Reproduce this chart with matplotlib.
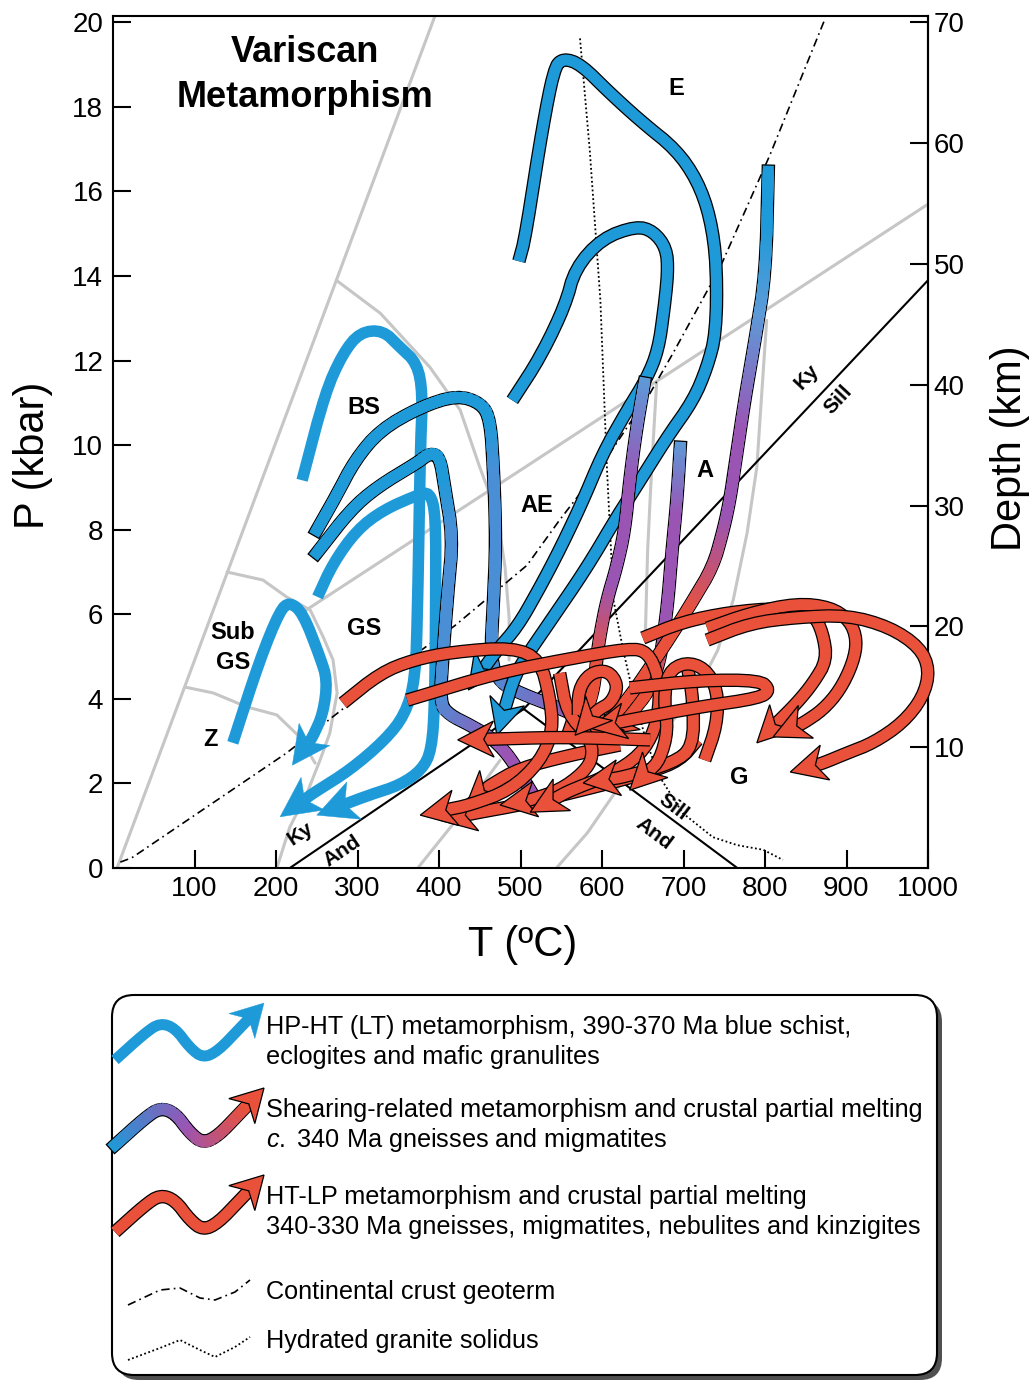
import numpy as np
import matplotlib
matplotlib.use('Agg')
import matplotlib.pyplot as plt
from matplotlib import font_manager
from matplotlib.collections import LineCollection
from matplotlib.colors import LinearSegmentedColormap
from matplotlib.patches import Polygon, FancyBboxPatch

W, H, DPI = 1032, 1384, 100

BLUE = '#1e9ad8'
MBLUE = '#4a8fd6'
LBLUE = '#5d9ad8'
PURPLE = '#9a55b4'
RED = '#e9513a'
GREY = '#c6c6c6'

# -- facies boundaries (T in ºC, P in kbar) ----------------------------------
grey_a = ([5, 395], [0, 20.15])
grey_b = ([237, 1000], [6.1, 15.7])
grey_c = ([140, 184, 213, 242, 258, 270, 275, 266, 254, 238, 217, 201],
          [7.0, 6.81, 6.41, 6.10, 5.46, 4.92, 4.14, 3.19, 2.55, 1.77, 0.97, 0.0])
grey_d = ([88, 123, 164, 201, 229, 248],
          [4.28, 4.14, 3.81, 3.62, 3.10, 2.48])
grey_e = ([274, 328, 389, 426, 450, 471, 481, 486, 486],
          [13.9, 13.12, 11.84, 10.83, 9.48, 8.39, 7.12, 5.93, 4.92])
grey_f = ([374, 426, 475], [0, 1.25, 2.55])
grey_g = ([802, 790, 778, 761, 742, 720, 696, 671, 643, 618, 582, 545],
          [12.95, 9.48, 7.92, 6.34, 5.15, 4.33, 3.69, 3.14, 2.62, 1.84, 0.83, 0.02])
grey_h = ([667, 661, 656, 653], [11.47, 9.48, 7.52, 5.39])

# Al2SiO5 reactions
ky_and = ([217, 504], [0, 3.76])
sill_and = ([504, 766], [3.76, 0])
ky_sill = ([504, 1000], [3.76, 13.9])

geotherm = ([9, 23, 213, 315, 420, 508, 548, 598, 659, 687, 745, 806, 874],
            [0.14, 0.24, 2.72, 4.26, 5.74, 7.16, 8.23, 9.48, 11.23, 12.17, 14.21, 16.86, 20.1])
solidus = ([573, 585, 598, 606, 610, 614, 626, 638, 655, 671, 699, 736, 766, 798, 822],
           [19.62, 16.97, 13.43, 9.48, 7.92, 6.34, 5.15, 4.14, 2.95, 2.15, 1.30, 0.73, 0.54, 0.43, 0.19])

# -- HP-HT (LT) paths ---------------------------------------------------------
path_z = ([147, 180, 205, 217, 233, 254, 263, 258, 245, 220],
          [2.96, 4.92, 6.10, 6.29, 6.03, 4.99, 4.44, 3.66, 3.10, 2.43])
path_bs = ([232, 260, 282, 303, 331, 352, 373, 380, 377, 374, 371, 358, 334, 291, 248, 205],
           [9.17, 11.23, 12.17, 12.67, 12.72, 12.32, 11.94, 11.23, 9.88, 6.34, 4.44, 3.62, 3.03,
            2.32, 1.80, 1.21])
path_gs1 = ([251, 270, 299, 331, 373, 389, 396, 396, 395, 391, 379, 352, 315, 282, 250],
            [6.41, 7.21, 7.99, 8.46, 8.82, 8.89, 8.34, 6.57, 3.97, 2.79, 2.32, 1.96, 1.73, 1.49, 1.25])
path_gs2 = ([250, 273, 297, 328, 377, 422, 452, 463, 467, 470, 467, 463, 475, 505, 548, 585],
            [7.99, 8.77, 9.65, 10.36, 10.90, 11.18, 10.99, 10.59, 9.41, 7.75, 6.34, 4.92, 4.37,
             4.09, 3.78, 3.45])
path_gs3 = ([250, 291, 324, 373, 389, 401, 407, 417, 411, 405, 401, 413, 438, 463, 483, 499, 512],
            [7.45, 8.46, 9.01, 9.58, 9.81, 9.72, 9.01, 7.82, 6.57, 5.08, 3.90, 3.62, 3.38, 3.10,
             2.72, 2.25, 1.84])
path_e1 = ([498, 506, 525, 541, 552, 574, 609, 649, 691, 717, 733, 741, 740, 729, 712, 680, 647,
            618, 582, 540, 512, 493, 471],
           [14.35, 14.92, 17.30, 18.91, 19.15, 19.01, 18.34, 17.64, 16.99, 16.26, 15.39, 14.25,
            12.65, 11.84, 11.06, 10.19, 9.17, 8.30, 7.12, 5.93, 5.15, 4.56, 3.14])
path_e2 = ([490, 525, 555, 567, 600, 642, 663, 679, 681, 676, 669, 655, 631, 601, 577, 548, 520,
            496, 471, 436],
           [11.06, 12.10, 13.31, 14.18, 14.89, 15.18, 15.06, 14.66, 14.09, 13.19, 12.25, 11.58,
            10.83, 9.81, 8.70, 7.52, 6.50, 5.70, 5.15, 4.21])

# -- shearing-related paths ---------------------------------------------------
path_s1 = ([652, 642, 634, 628, 618, 606, 598, 594, 590, 579, 548],
           [11.47, 10.35, 9.17, 7.99, 7.12, 6.34, 5.56, 5.04, 4.21, 3.62, 3.03])
path_s2 = ([696, 692, 686, 681, 676, 671, 659, 634, 598],
           [9.95, 8.70, 7.52, 6.34, 5.56, 4.92, 4.21, 3.62, 3.14])
path_s3 = ([804, 801, 788, 775, 766, 757, 748, 736, 712, 687, 665, 640, 616, 579],
           [16.48, 14.09, 12.51, 11.06, 9.88, 8.70, 7.92, 7.12, 6.34, 5.56, 4.92, 4.21, 3.62, 3.07])

# -- HT-LP paths ----------------------------------------------------------------
path_r1 = ([282, 328, 368, 417, 491, 524, 536, 540, 524, 487, 438, 377],
           [3.90, 4.61, 4.92, 5.11, 5.22, 4.92, 4.04, 3.26, 2.51, 1.84, 1.49, 1.25])
path_r2 = ([361, 471, 552, 634, 656, 669, 671, 665, 647, 610, 561, 512],
           [3.97, 4.61, 4.92, 5.20, 5.11, 4.56, 3.97, 3.26, 2.67, 2.20, 1.84, 1.32])
path_r3 = ([729, 782, 839, 901, 953, 990, 1002, 994, 969, 933, 901, 871, 831],
           [5.39, 5.79, 5.93, 5.98, 5.70, 5.22, 4.68, 4.04, 3.43, 2.96, 2.72, 2.48, 2.27])
path_r4 = ([729, 782, 839, 880, 904, 913, 908, 892, 871, 847, 810],
           [5.67, 6.03, 6.26, 6.17, 5.86, 5.39, 4.85, 4.21, 3.74, 3.43, 3.10])
path_r5 = ([650, 699, 757, 818, 859, 871, 876, 859, 839, 790],
           [5.44, 5.82, 6.05, 6.15, 6.03, 5.56, 4.92, 4.37, 3.90, 2.96])
path_r6 = ([634, 720, 794, 806, 794, 720, 647, 585],
           [4.26, 4.44, 4.44, 4.21, 4.02, 3.81, 3.55, 3.31])
path_r7 = ([726, 741, 742, 726, 702, 681, 676, 681, 671, 634],
           [2.55, 3.38, 4.21, 4.73, 4.87, 4.63, 3.97, 3.26, 2.55, 1.84])
path_r8 = ([717, 696, 659, 614, 552, 499, 450, 401],
           [3.03, 2.55, 2.27, 2.03, 1.73, 1.49, 1.32, 1.13])
path_r9 = ([571, 571, 585, 607, 620, 612, 595, 567],
           [3.62, 4.21, 4.61, 4.68, 4.33, 3.92, 3.74, 3.14])
path_r10 = ([622, 561, 499, 463, 432], [2.91, 2.67, 2.36, 1.96, 1.42])
path_r11 = ([659, 600, 540, 470, 423], [3.03, 3.07, 3.09, 3.05, 3.03])
path_r12 = ([704, 712, 712, 687, 626, 577], [4.85, 3.97, 2.86, 2.48, 2.15, 2.01])
path_r13 = ([548, 557, 585, 589, 577, 548, 512, 475],
            [4.61, 3.66, 3.09, 2.62, 2.25, 1.84, 1.61, 1.49])

x_ticks = [100, 200, 300, 400, 500, 600, 700, 800, 900, 1000]
y_ticks = [0, 2, 4, 6, 8, 10, 12, 14, 16, 18, 20]
depth_ticks = [10, 20, 30, 40, 50, 60, 70]

legend_lines = [
    'HP-HT (LT) metamorphism, 390-370 Ma blue schist,',
    'eclogites and mafic granulites',
    'Shearing-related metamorphism and crustal partial melting',
    r'$\mathit{c.}$ 340 Ma gneisses and migmatites',
    'HT-LP metamorphism and crustal partial melting',
    '340-330 Ma gneisses, migmatites, nebulites and kinzigites',
    'Continental crust geoterm',
    'Hydrated granite solidus',
]

names = {f.name for f in font_manager.fontManager.ttflist}
NARROW = 'Liberation Sans Narrow' in names
LEG_FONT = 'Liberation Sans Narrow' if NARROW else 'Liberation Sans'
LEG_SIZE = 21.5 if NARROW else 18.2

plt.rcParams['font.family'] = ['Liberation Sans', 'DejaVu Sans']
plt.rcParams['mathtext.fontset'] = 'custom'
plt.rcParams['mathtext.rm'] = LEG_FONT
plt.rcParams['mathtext.it'] = LEG_FONT + ':italic'


def rounded(pts, n=2):
    # soften the corners of the drawn stroke (endpoints kept)
    for _ in range(n):
        out = [pts[0]]
        for a, b in zip(pts[:-1], pts[1:]):
            out.append(0.75 * a + 0.25 * b)
            out.append(0.25 * a + 0.75 * b)
        out.append(pts[-1])
        pts = np.array(out)
    return pts


def draw_route(ax, T, P, stops, z, edge=True, head=True, width=11, hl=36, hw=18, notch=10):
    tr = ax.transData
    pts = tr.transform(np.column_stack([T, P]).astype(float))
    head_pts = None
    if head:
        tip, prev = pts[-1], pts[-2]
        d = (tip - prev) / np.hypot(*(tip - prev))
        n = np.array([-d[1], d[0]])
        base = tip - d * hl
        pts = np.vstack([pts[:-1], base + d * notch])
        head_pts = np.array([tip, base + n * hw, base + d * notch, base - n * hw])
    pts = rounded(pts)
    dense = [pts[0]]
    for a, b in zip(pts[:-1], pts[1:]):
        k = max(1, int(np.hypot(*(b - a)) / 3))
        for j in range(1, k + 1):
            dense.append(a + (b - a) * j / k)
    dense = np.array(dense)
    s = np.concatenate([[0], np.cumsum(np.hypot(*np.diff(dense, axis=0).T))])
    frac = s / s[-1]
    inv = tr.inverted()
    dd = inv.transform(dense)
    lw = width * 72 / DPI
    single = len(stops) == 1
    cap = 'butt' if single else 'projecting'
    if edge:
        ax.plot(dd[:, 0], dd[:, 1], color='k', lw=lw + 1.8, solid_capstyle=cap,
                solid_joinstyle='round', zorder=z, clip_on=False)
    if single:
        ax.plot(dd[:, 0], dd[:, 1], color=stops[0], lw=lw, solid_capstyle='butt',
                solid_joinstyle='round', zorder=z + 0.1, clip_on=False)
        end_col = stops[0]
    else:
        cmap = LinearSegmentedColormap.from_list('g', stops)
        segs = np.stack([dd[:-1], dd[1:]], axis=1)
        cols = cmap((frac[:-1] + frac[1:]) / 2)
        ax.add_collection(LineCollection(segs, colors=cols, linewidths=lw,
                                         capstyle='projecting', joinstyle='round',
                                         zorder=z + 0.1, clip_on=False))
        end_col = cmap(1.0)
    if head_pts is not None:
        ax.add_patch(Polygon(inv.transform(head_pts), closed=True, fc=end_col,
                             ec='k' if edge else end_col, lw=0.9 if edge else 0.3,
                             joinstyle='miter', zorder=z + 0.2, clip_on=False))


fig = plt.figure(figsize=(W / DPI, H / DPI), dpi=DPI)
ax = fig.add_axes([113 / W, 1 - 868 / H, 815 / W, 852 / H])
ax.set_xlim(0, 1000)
ax.set_ylim(0, 20.15)
ax.set_xticks(x_ticks)
ax.set_yticks(y_ticks)
ax.tick_params(direction='in', length=13, width=1.5, labelsize=20)
ax.tick_params(axis='x', pad=6)
ax.tick_params(axis='y', pad=7)
for sp in ax.spines.values():
    sp.set_linewidth(1.5)

sec = ax.secondary_yaxis('right', functions=(lambda p: p * 3.5, lambda d: d / 3.5))
sec.set_yticks(depth_ticks)
sec.tick_params(direction='in', length=13, width=1.5, labelsize=20, pad=4)
sec.spines['right'].set_linewidth(1.5)

fig.text(33 / W, 1 - 455 / H, 'P (kbar)', rotation=90, ha='center', va='center', fontsize=30)
fig.text(523 / W, 1 - 945 / H, 'T (ºC)', ha='center', va='center', fontsize=30)
fig.text(1010 / W, 1 - 448 / H, 'Depth (km)', rotation=90, ha='center', va='center', fontsize=30)

# background lines
for g in (grey_a, grey_b, grey_c, grey_d, grey_e, grey_f, grey_g, grey_h):
    ax.plot(g[0], g[1], color=GREY, lw=2.2, solid_capstyle='round', zorder=1)
for g in (ky_and, sill_and, ky_sill):
    ax.plot(g[0], g[1], color='k', lw=1.5, zorder=2)
ax.plot(geotherm[0], geotherm[1], color='k', lw=1.2, ls=(0, (5, 2.5, 1, 2.5)), zorder=2)
ax.plot(solidus[0], solidus[1], color='k', lw=1.3, ls=(0, (1, 1.4)), zorder=2)

# HP-HT paths
draw_route(ax, *path_z, [BLUE], 3, edge=False, width=11.5, hl=38, hw=19)
draw_route(ax, *path_bs, [BLUE], 3.5, edge=False, width=11.5, hl=40, hw=20)
draw_route(ax, *path_gs1, [BLUE], 4, edge=False, width=11.5, hl=40, hw=20)
draw_route(ax, *path_gs3, [(0, BLUE), (0.35, BLUE), (0.45, MBLUE), (0.75, MBLUE), (0.92, PURPLE),
                           (1, PURPLE)], 4.5, head=False)
draw_route(ax, *path_gs2, [(0, BLUE), (0.42, BLUE), (0.5, MBLUE), (0.82, MBLUE), (1, PURPLE)],
           5, head=False)
draw_route(ax, *path_e1, [BLUE], 5.5)
draw_route(ax, *path_e2, [BLUE], 6)

# shearing paths
draw_route(ax, *path_s1, [(0, LBLUE), (0.3, PURPLE), (0.6, PURPLE), (0.85, RED), (1, RED)], 6.5)
draw_route(ax, *path_s2, [(0, LBLUE), (0.25, PURPLE), (0.65, PURPLE), (0.85, RED), (1, RED)], 7)
draw_route(ax, *path_s3, [(0, BLUE), (0.1, BLUE), (0.25, LBLUE), (0.45, PURPLE), (0.6, PURPLE),
                          (0.78, RED), (1, RED)], 7.5)

# HT-LP paths
for i, p in enumerate((path_r8, path_r10, path_r13, path_r1, path_r2, path_r12, path_r7,
                       path_r11, path_r6, path_r9, path_r5, path_r4, path_r3)):
    draw_route(ax, *p, [RED], 8 + i * 0.5)

# labels
lab = dict(fontsize=17, fontweight='bold', ha='center', va='center', zorder=20)
ax.text(236, 19.29, 'Variscan', fontsize=26, fontweight='bold', ha='center', va='center')
ax.text(236, 18.23, 'Metamorphism', fontsize=26, fontweight='bold', ha='center', va='center')
ax.text(308, 10.90, 'BS', **lab)
ax.text(147, 5.58, 'Sub', **lab)
ax.text(147, 4.87, 'GS', **lab)
ax.text(308, 5.67, 'GS', **lab)
ax.text(120, 3.03, 'Z', **lab)
ax.text(520, 8.58, 'AE', **lab)
ax.text(691, 18.44, 'E', **lab)
ax.text(726, 9.41, 'A', **lab)
ax.text(768, 2.13, 'G', **lab)
small = dict(fontsize=15, fontweight='bold', ha='center', va='center', rotation_mode='anchor',
             zorder=20)
ax.text(230, 0.80, 'Ky', rotation=34, **small)
ax.text(281, 0.40, 'And', rotation=34, **small)
ax.text(851, 11.62, 'Ky', rotation=47, **small)
ax.text(890, 11.08, 'Sill', rotation=47, **small)
ax.text(688, 1.45, 'Sill', rotation=-37, **small)
ax.text(664, 0.82, 'And', rotation=-37, **small)

# legend box (figure pixel space)
lax = fig.add_axes([0, 0, 1, 1], zorder=-1)
lax.set_xlim(0, W)
lax.set_ylim(H, 0)
lax.axis('off')
lax.add_patch(FancyBboxPatch((117, 1000), 825, 380, boxstyle='round,pad=0,rounding_size=22',
                             fc='#505050', ec='none', zorder=1))
lax.add_patch(FancyBboxPatch((112, 995), 825, 380, boxstyle='round,pad=0,rounding_size=22',
                             fc='white', ec='k', lw=1.5, zorder=2))

icon_x = [115, 145, 160, 175, 190, 203, 218, 240, 264]
icon_dy = [57, 30, 20, 25, 45, 55, 48, 25, 0]
draw_route(lax, icon_x, [1003 + d for d in icon_dy], [BLUE], 5, edge=False, hl=32, hw=18)
draw_route(lax, icon_x, [1088 + d for d in icon_dy], [(0, BLUE), (0.55, PURPLE), (1, RED)], 5,
           hl=32, hw=18)
draw_route(lax, icon_x, [1175 + d for d in icon_dy], [RED], 5, hl=32, hw=18)
wave_x = [128, 160, 180, 200, 215, 235, 250]
lax.plot(wave_x, [1305, 1290, 1288, 1298, 1300, 1292, 1280], color='k', lw=1.2,
         ls=(0, (5, 2.5, 1, 2.5)), zorder=5)
lax.plot(wave_x, [1360, 1348, 1340, 1350, 1357, 1347, 1337], color='k', lw=1.3,
         ls=(0, (1, 1.4)), zorder=5)

leg_y = [1027, 1057, 1110, 1140, 1197, 1227, 1292, 1341]
for txt, y in zip(legend_lines, leg_y):
    lax.text(266, y, txt, fontsize=LEG_SIZE, family=LEG_FONT, ha='left', va='center', zorder=6)

fig.savefig('out.png', dpi=DPI)
